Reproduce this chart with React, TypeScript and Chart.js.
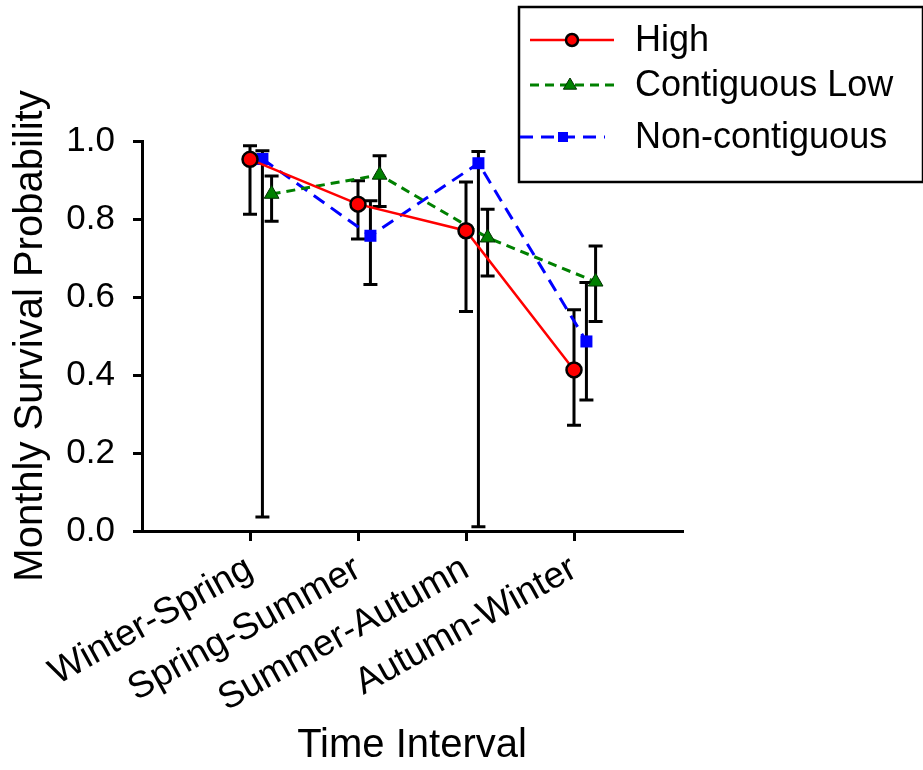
import React, { useEffect, useRef } from "react";
import { Chart, registerables } from "chart.js";

Chart.register(...registerables);

const categories = ["Winter-Spring", "Spring-Summer", "Summer-Autumn", "Autumn-Winter"];
const yTickValues = [0, 0.2, 0.4, 0.6, 0.8, 1.0];

const highMean = [0.953, 0.838, 0.77, 0.413];
const highLower = [0.812, 0.749, 0.563, 0.271];
const highUpper = [0.988, 0.898, 0.895, 0.567];

const contigMean = [0.864, 0.913, 0.752, 0.639];
const contigLower = [0.794, 0.832, 0.654, 0.537];
const contigUpper = [0.91, 0.962, 0.825, 0.731];

const noncontigMean = [0.954, 0.757, 0.943, 0.486];
const noncontigLower = [0.036, 0.632, 0.011, 0.336];
const noncontigUpper = [0.975, 0.847, 0.973, 0.637];

const FONT = "'Liberation Sans', Arial, sans-serif";

const seriesOffsets = { high: 0, contig: 0.2, noncontig: 0.115 };

function toPoints(means: number[], offset: number) {
  return means.map((y, i) => ({ x: i + 1 + offset, y }));
}

const errorBarPlugin = {
  id: "errorBars",
  beforeDatasetsDraw(chart: any) {
    const { ctx, scales } = chart;
    const xs = scales.x;
    const ys = scales.y;
    ctx.save();
    ctx.strokeStyle = "#000";
    ctx.lineWidth = 3;
    ctx.setLineDash([]);
    chart.data.datasets.forEach((ds: any) => {
      ds.data.forEach((p: any, i: number) => {
        const x = xs.getPixelForValue(p.x);
        const yl = ys.getPixelForValue(ds.lower[i]);
        const yu = ys.getPixelForValue(ds.upper[i]);
        const hw = 7;
        ctx.beginPath();
        ctx.moveTo(x, yl);
        ctx.lineTo(x, yu);
        ctx.moveTo(x - hw, yl);
        ctx.lineTo(x + hw, yl);
        ctx.moveTo(x - hw, yu);
        ctx.lineTo(x + hw, yu);
        ctx.stroke();
      });
    });
    ctx.restore();
  },
};

const legendPlugin = {
  id: "boxLegend",
  afterDraw(chart: any) {
    const { ctx } = chart;
    ctx.save();
    ctx.strokeStyle = "#000";
    ctx.lineWidth = 2.5;
    ctx.setLineDash([]);
    ctx.strokeRect(519, 7, 404, 175);
    const rows = [
      { y: 40, x0: 530, x1: 614, mx: 572 },
      { y: 85, x0: 530, x1: 614, mx: 570 },
      { y: 137, x0: 520, x1: 605, mx: 563 },
    ];
    chart.data.datasets.forEach((ds: any, i: number) => {
      const r = rows[i];
      ctx.save();
      ctx.strokeStyle = ds.borderColor;
      ctx.lineWidth = ds.borderWidth;
      ctx.setLineDash(ds.borderDash || []);
      ctx.beginPath();
      ctx.moveTo(r.x0, r.y);
      ctx.lineTo(r.x1, r.y);
      ctx.stroke();
      ctx.restore();
      ctx.save();
      ctx.setLineDash([]);
      ctx.fillStyle = ds.pointBackgroundColor;
      ctx.strokeStyle = ds.pointBorderColor;
      ctx.lineWidth = ds.pointBorderWidth;
      const rad = ds.legendRadius;
      if (ds.pointStyle === "circle") {
        ctx.beginPath();
        ctx.arc(r.mx, r.y, rad, 0, Math.PI * 2);
        ctx.fill();
        if (ds.pointBorderWidth) ctx.stroke();
      } else if (ds.pointStyle === "triangle") {
        ctx.beginPath();
        ctx.moveTo(r.mx, r.y - rad);
        ctx.lineTo(r.mx + rad * 0.95, r.y + rad * 0.6);
        ctx.lineTo(r.mx - rad * 0.95, r.y + rad * 0.6);
        ctx.closePath();
        ctx.fill();
        if (ds.pointBorderWidth) ctx.stroke();
      } else {
        ctx.fillRect(r.mx - rad, r.y - rad, rad * 2, rad * 2);
      }
      ctx.restore();
      ctx.fillStyle = "#000";
      ctx.font = `36px ${FONT}`;
      ctx.textAlign = "left";
      ctx.textBaseline = "middle";
      ctx.fillText(ds.label, 635, r.y + 1);
    });
    ctx.restore();
  },
};

export default function App() {
  const ref = useRef<HTMLCanvasElement | null>(null);

  useEffect(() => {
    if (!ref.current) return;
    const chart = new Chart(ref.current, {
      type: "line",
      data: {
        datasets: [
          {
            label: "High",
            data: toPoints(highMean, seriesOffsets.high),
            lower: highLower,
            upper: highUpper,
            borderColor: "#ff0000",
            borderWidth: 2.5,
            pointStyle: "circle",
            pointRadius: 7.5,
            pointBackgroundColor: "#ff0000",
            pointBorderColor: "#000000",
            pointBorderWidth: 2.5,
            legendRadius: 6,
            tension: 0,
            clip: false,
          } as any,
          {
            label: "Contiguous Low",
            data: toPoints(contigMean, seriesOffsets.contig),
            lower: contigLower,
            upper: contigUpper,
            borderColor: "#008000",
            borderWidth: 3,
            borderDash: [9, 6],
            pointStyle: "triangle",
            pointRadius: 8.5,
            pointBackgroundColor: "#008000",
            pointBorderColor: "#003000",
            pointBorderWidth: 1,
            legendRadius: 7,
            tension: 0,
            clip: false,
          } as any,
          {
            label: "Non-contiguous",
            data: toPoints(noncontigMean, seriesOffsets.noncontig),
            lower: noncontigLower,
            upper: noncontigUpper,
            borderColor: "#0000ff",
            borderWidth: 3,
            borderDash: [13, 8],
            pointStyle: "rect",
            pointRadius: 8.5,
            pointBackgroundColor: "#0000ff",
            pointBorderColor: "#0000ff",
            pointBorderWidth: 0,
            legendRadius: 5,
            tension: 0,
            clip: false,
          } as any,
        ],
      },
      options: {
        animation: false,
        responsive: false,
        devicePixelRatio: 1,
        layout: { padding: { top: 141, right: 241, left: 0, bottom: 0 } },
        plugins: {
          legend: { display: false },
          tooltip: { enabled: false },
        },
        scales: {
          x: {
            type: "linear",
            min: 0,
            max: 5,
            afterBuildTicks(scale: any) {
              scale.ticks = categories.map((_, i) => ({ value: i + 1 }));
            },
            afterFit(scale: any) {
              scale.height = 770 - 531;
            },
            grid: {
              drawOnChartArea: false,
              drawTicks: true,
              tickLength: 10,
              color: "#000",
              lineWidth: 3,
            },
            border: { display: true, color: "#000", width: 3 },
            ticks: {
              autoSkip: false,
              maxRotation: 29,
              minRotation: 29,
              padding: 6,
              color: "#000",
              font: { family: FONT, size: 37 },
              callback: (v: any) => categories[Math.round(Number(v)) - 1] ?? "",
            },
            title: {
              display: true,
              text: "Time Interval",
              color: "#000",
              font: { family: FONT, size: 40 },
              padding: { top: 0, bottom: 0 },
            },
          },
          y: {
            type: "linear",
            min: 0,
            max: 1,
            afterBuildTicks(scale: any) {
              scale.ticks = yTickValues.map((v) => ({ value: v }));
            },
            afterFit(scale: any) {
              scale.width = 142;
            },
            grid: {
              drawOnChartArea: false,
              drawTicks: true,
              tickLength: 9,
              color: "#000",
              lineWidth: 3,
            },
            border: { display: true, color: "#000", width: 3 },
            ticks: {
              padding: 18,
              color: "#000",
              font: { family: FONT, size: 35 },
              callback: (v: any) => Number(v).toFixed(1),
            },
            title: {
              display: true,
              text: "Monthly Survival Probability",
              color: "#000",
              font: { family: FONT, size: 40 },
              padding: { top: 7, bottom: 0 },
            },
          },
        },
      } as any,
      plugins: [errorBarPlugin, legendPlugin],
    });
    return () => chart.destroy();
  }, []);

  return (
    <div style={{ position: "absolute", left: 0, top: 0, width: 923, height: 770, background: "#fff" }}>
      <canvas ref={ref} width={923} height={770} />
    </div>
  );
}
